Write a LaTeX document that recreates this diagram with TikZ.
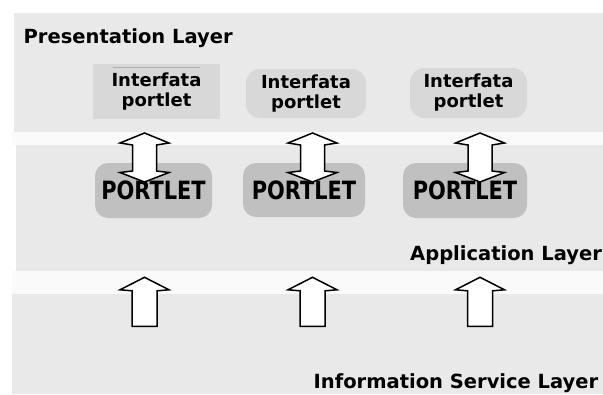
\documentclass[tikz,border=0pt]{standalone}
\usepackage{fontspec}
\setmainfont{DejaVu Sans}
\newfontfamily\portletfont{DejaVu Sans}[FakeStretch=0.83]
\definecolor{layergray}{HTML}{E9E9E9}
\definecolor{gapwhite}{HTML}{FAFAFA}
\definecolor{ifgray}{HTML}{D8D8D8}
\definecolor{portletgray}{HTML}{C0C0C0}
\definecolor{ruleline}{HTML}{B0B0B0}
\begin{document}
\begin{tikzpicture}[x=1pt,y=-1pt,
  layerlabel/.style={inner sep=0pt,anchor=base west,font=\bfseries\fontsize{19.5}{22}\selectfont},
  ifbox/.style={fill=ifgray,draw=none,inner sep=0pt,align=center,
    font=\bfseries\fontsize{18}{20}\selectfont},
  portletbox/.style={fill=portletgray,draw=none,rounded corners=13pt,inner sep=0pt,
    font=\portletfont\bfseries\fontsize{25.2}{28}\selectfont},
  arrowline/.style={draw=black,fill=white,line width=1.5pt,line join=miter},
  pics/dblarrow/.style={code={
    \path[arrowline] (0,0) -- (24.5,10) -- (12,12) -- (12,38) -- (24.5,39.5) -- (0,49)
      -- (-24.5,39.5) -- (-12,38) -- (-12,12) -- (-24.5,10) -- cycle;}},
  pics/uparrow/.style={code={
    \path[arrowline] (0,0) -- (24.5,12.5) -- (12.5,13.5) -- (12.5,49) -- (-12.5,49)
      -- (-12.5,13.5) -- (-24.5,12.5) -- cycle;}}
]
\useasboundingbox (0,0) rectangle (603,394);
\fill[white] (0,0) rectangle (603,394);

% layer bands and the light strips between them
\fill[gapwhite] (12,132) rectangle (603,145);
\fill[gapwhite] (12,271) rectangle (603,294);
\fill[layergray] (14,13) rectangle (603,132);
\fill[layergray] (16,145) rectangle (603,271);
\fill[layergray] (12,294) rectangle (603,394);

% layer titles
\node[layerlabel] (pres) at (23.5,43.3) {Presentation Layer};
\node[layerlabel] (appl) at (410,260) {Application Layer};
\node[layerlabel] (info) at (313.5,388) {Information Service Layer};

% portlet interfaces
\node[ifbox,minimum width=127pt,minimum height=55pt] (if1) at (156.5,91.5) {Interfata\\portlet};
\node[ifbox,rounded corners=14pt,minimum width=120pt,minimum height=49pt] (if2) at (306,93.5) {Interfata\\portlet};
\node[ifbox,rounded corners=14pt,minimum width=117pt,minimum height=50pt] (if3) at (468.5,93) {Interfata\\portlet};
\draw[ruleline,line width=1pt] (113,67) -- (200,67);

% portlets
\node[portletbox,minimum width=117pt,minimum height=55pt] (p1) at (153.5,190.5) {PORTLET};
\node[portletbox,minimum width=122pt,minimum height=54pt] (p2) at (304,190) {PORTLET};
\node[portletbox,minimum width=124pt,minimum height=55pt] (p3) at (465,190.5) {PORTLET};

% interface <-> portlet block arrows
\coordinate (da1) at (144.5,133);
\coordinate (da2) at (312.5,133);
\coordinate (da3) at (480,133);
\pic at (da1) {dblarrow};
\pic at (da2) {dblarrow};
\pic at (da3) {dblarrow};

% service -> application block arrows
\coordinate (ua1) at (144.5,277.3);
\coordinate (ua2) at (312.5,277.3);
\coordinate (ua3) at (480,277.3);
\pic at (ua1) {uparrow};
\pic at (ua2) {uparrow};
\pic at (ua3) {uparrow};
\end{tikzpicture}
\end{document}
